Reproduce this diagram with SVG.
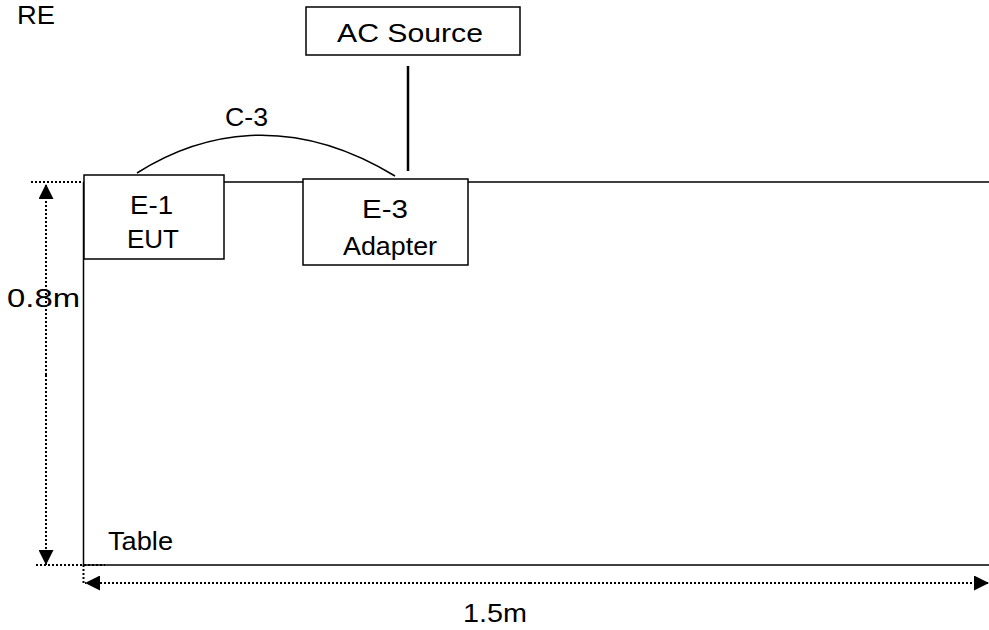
<svg xmlns="http://www.w3.org/2000/svg" width="989" height="630" viewBox="0 0 989 630">
<style>
text{font-family:"Liberation Sans",Arial,sans-serif;font-size:26px;fill:#000}
.box{fill:#fff;stroke:#000;stroke-width:1.5}
.solid{stroke:#000;stroke-width:1.5;fill:none}
.dot{stroke:#000;stroke-width:2;stroke-dasharray:2 2;fill:none}
</style>
<defs>
<marker id="ah" viewBox="0 0 10 10" refX="10" refY="5" markerWidth="15" markerHeight="15" markerUnits="userSpaceOnUse" orient="auto">
<path d="M0,0 L10,5 L0,10 z" fill="#000"/>
</marker>
</defs>
<rect width="989" height="630" fill="#fff"/>
<text x="17" y="24" textLength="38" lengthAdjust="spacingAndGlyphs">RE</text>
<g id="table">
<path class="solid" d="M83.5,182 H989 M83.5,182 V565 H989"/>
<text x="108" y="550" textLength="65" lengthAdjust="spacingAndGlyphs">Table</text>
</g>
<g id="connectors">
<line x1="408" y1="66" x2="408" y2="171" stroke="#000" stroke-width="2.5"/>
<path class="solid" d="M137,173 C200,133 290,112 395,176"/>
<text x="225" y="126" textLength="43" lengthAdjust="spacingAndGlyphs">C-3</text>
<path class="dot" d="M31,182 H83"/>
<path class="dot" d="M36,565 H105"/>
<path class="dot" d="M83.5,565 V583"/>
<line class="dot" x1="46" y1="375" x2="46" y2="184" marker-end="url(#ah)"/>
<line class="dot" x1="46" y1="375" x2="46" y2="565" marker-end="url(#ah)"/>
<line class="dot" x1="530" y1="583" x2="85" y2="583" marker-end="url(#ah)"/>
<line class="dot" x1="530" y1="583" x2="989" y2="583" marker-end="url(#ah)"/>
<text x="7" y="307" textLength="73" lengthAdjust="spacingAndGlyphs">0.8m</text>
<text x="463" y="622" textLength="64" lengthAdjust="spacingAndGlyphs">1.5m</text>
</g>
<g id="ac-source">
<rect class="box" x="306" y="7" width="214" height="48"/>
<text x="337" y="42" textLength="146" lengthAdjust="spacingAndGlyphs">AC Source</text>
</g>
<g id="eut">
<rect class="box" x="84" y="175" width="140" height="84"/>
<text x="130" y="214" textLength="43" lengthAdjust="spacingAndGlyphs">E-1</text>
<text x="127" y="248" textLength="52" lengthAdjust="spacingAndGlyphs">EUT</text>
</g>
<g id="adapter">
<rect class="box" x="303" y="179" width="165" height="86"/>
<text x="362" y="218" textLength="46" lengthAdjust="spacingAndGlyphs">E-3</text>
<text x="343" y="255" textLength="94" lengthAdjust="spacingAndGlyphs">Adapter</text>
</g>
</svg>
